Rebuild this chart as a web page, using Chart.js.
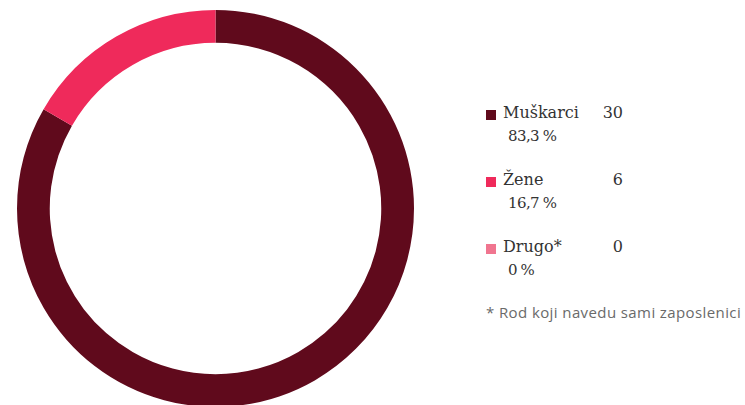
<!DOCTYPE html>
<html lang="hr">
<head>
<meta charset="UTF-8">
<title>Rod zaposlenika</title>
<script src="https://cdn.jsdelivr.net/npm/chart.js@4.4.0/dist/chart.umd.min.js"></script>
<style>
    html, body {
        margin: 0;
        padding: 0;
        width: 745px;
        height: 405px;
        overflow: hidden;
        background: #fff;
    }
    .chart-box {
        position: absolute;
        left: 17px;
        top: 10px;
        width: 397px;
        height: 397px;
    }
    .legend {
        position: absolute;
        left: 486px;
        top: 100px;
        font-family: "DejaVu Serif", serif;
        color: #333;
    }
    .legend .row {
        position: relative;
        height: 67px;
        width: 140px;
    }
    .legend .swatch {
        position: absolute;
        left: 0;
        top: 10px;
        width: 10px;
        height: 10px;
    }
    .legend .name {
        position: absolute;
        left: 17px;
        top: 3px;
        font-size: 16px;
    }
    .legend .value {
        position: absolute;
        right: 3px;
        top: 3px;
        font-size: 16px;
    }
    .legend .pct {
        position: absolute;
        left: 22px;
        top: 27px;
        font-family: "DejaVu Serif", serif;
        font-size: 15px;
        letter-spacing: -0.6px;
        word-spacing: -0.5px;
    }
    .note {
        position: absolute;
        left: 486px;
        top: 302px;
        font-family: "Open Sans", sans-serif;
        font-size: 15px;
        letter-spacing: 0.4px;
        color: #6a6a6a;
    }
</style>
</head>
<body>
    <div class="chart-box"><canvas id="genderChart"></canvas></div>
    <div class="legend" id="legend"></div>
    <div class="note">* Rod koji navedu sami zaposlenici</div>

<script>
    // podaci
    const labels = ["Muškarci", "Žene", "Drugo*"];
    const counts = [30, 6, 0];
    const percents = ["83,3 %", "16,7 %", "0 %"];
    const colors = ["#600a1c", "#ef2a5b", "#f0758f"];

    // legenda
    const legend = document.getElementById("legend");
    labels.forEach((label, i) => {
        const row = document.createElement("div");
        row.className = "row";
        row.innerHTML =
            '<span class="swatch" style="background:' + colors[i] + '"></span>' +
            '<span class="name">' + label + '</span>' +
            '<span class="value">' + counts[i] + '</span>' +
            '<span class="pct">' + percents[i] + '</span>';
        legend.appendChild(row);
    });

    const ctx = document.getElementById("genderChart").getContext("2d");
    new Chart(ctx, {
        type: "doughnut",
        data: {
            labels: labels,
            datasets: [
                {
                    data: counts,
                    backgroundColor: colors,
                    borderWidth: 0,
                },
            ],
        },
        options: {
            responsive: true,
            maintainAspectRatio: false,
            animation: false,
            cutout: "83.5%",
            layout: { padding: 0 },
            plugins: {
                legend: { display: false },
                tooltip: { enabled: false },
            },
        },
    });
</script>
</body>
</html>
